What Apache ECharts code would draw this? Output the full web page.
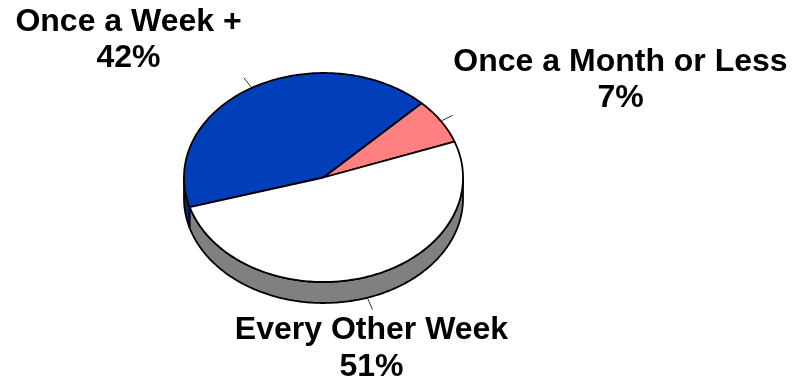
<!DOCTYPE html>
<html>
<head>
<meta charset="utf-8">
<script src="https://cdn.jsdelivr.net/npm/echarts@6/dist/echarts.min.js"></script>
<style>
  html, body { margin: 0; background: #fff; }
  #chart { width: 812px; height: 384px; }
</style>
</head>
<body>
<div id="chart"></div>
<script>
const categories = ["Once a Week +", "Once a Month or Less", "Every Other Week"];
const shares = [42, 7, 51];

const topColors = ["#003EBA", "#FF8080", "#FFFFFF"];
const sideColors = ["#00297A", "#B35A5A", "#808080"];

// flattened (3d looking) pie, drawn by a custom series
const pie = { cx: 323.5, cy: 177.5, rx: 139.5, ry: 104.5, depth: 21, startAngle: 196.5 };
const labelCenters = [[128.5, 40], [620.5, 80], [371.5, 349]];
const labelLineHeights = [36, 36, 37];

const total = shares.reduce((sum, v) => sum + v, 0);
const sliceStart = [];
const sliceEnd = [];
shares.reduce((acc, v, i) => {
  sliceStart[i] = pie.startAngle - (acc / total) * 360;
  sliceEnd[i] = pie.startAngle - ((acc + v) / total) * 360;
  return acc + v;
}, 0);

function rim(t, drop) {
  const r = (t * Math.PI) / 180;
  return [pie.cx + pie.rx * Math.cos(r), pie.cy - pie.ry * Math.sin(r) + (drop || 0)];
}

function arc(a, b, drop) {
  const n = Math.max(2, Math.ceil(Math.abs(a - b)));
  const pts = [];
  for (let i = 0; i <= n; i++) pts.push(rim(a + ((b - a) * i) / n, drop));
  return pts;
}

function renderSlice(params, api) {
  const i = params.dataIndex;
  const a0 = sliceStart[i];
  const a1 = sliceEnd[i];
  const children = [];
  const edge = { stroke: "#000", lineWidth: 1.8, lineJoin: "round" };

  // visible side wall (front half only)
  [-1, 0, 1].forEach((k) => {
    const lo = -180 + 360 * k;
    const hi = 360 * k;
    const s = Math.max(a1, lo);
    const e = Math.min(a0, hi);
    if (e > s) {
      children.push({
        type: "polygon",
        shape: { points: arc(s, e, 0).concat(arc(e, s, pie.depth)) },
        style: { fill: sideColors[i], ...edge },
      });
    }
  });

  children.push({
    type: "polygon",
    shape: { points: [[pie.cx, pie.cy]].concat(arc(a0, a1, 0)) },
    style: { fill: topColors[i], ...edge },
  });

  // leader line
  const mid = (a0 + a1) / 2;
  const mr = (mid * Math.PI) / 180;
  const front = Math.sin(mr) < 0;
  const p = rim(mid, front ? pie.depth : 0);
  const dx = pie.rx * Math.cos(mr);
  const dy = -pie.ry * Math.sin(mr);
  const len = Math.hypot(dx, dy);
  const ux = dx / len;
  const uy = dy / len;
  children.push({
    type: "line",
    shape: { x1: p[0] + ux * 1, y1: p[1] + uy * 1, x2: p[0] + ux * 13, y2: p[1] + uy * 13 },
    style: { stroke: "#000", lineWidth: 0.8 },
  });

  children.push({
    type: "text",
    x: labelCenters[i][0],
    y: labelCenters[i][1],
    style: {
      text: `${categories[i]}\n${api.value(0)}%`,
      fill: "#000",
      fontFamily: "Liberation Sans, Arial, sans-serif",
      fontWeight: "bold",
      fontSize: 32,
      lineHeight: labelLineHeights[i],
      align: "center",
      verticalAlign: "middle",
    },
  });

  return { type: "group", children };
}

const chart = echarts.init(document.getElementById("chart"), null, { renderer: "canvas" });
chart.setOption({
  backgroundColor: "#fff",
  animation: false,
  series: [{
    type: "custom",
    coordinateSystem: "none",
    silent: true,
    renderItem: renderSlice,
    data: shares.map((v) => [v]),
  }],
});
</script>
</body>
</html>
